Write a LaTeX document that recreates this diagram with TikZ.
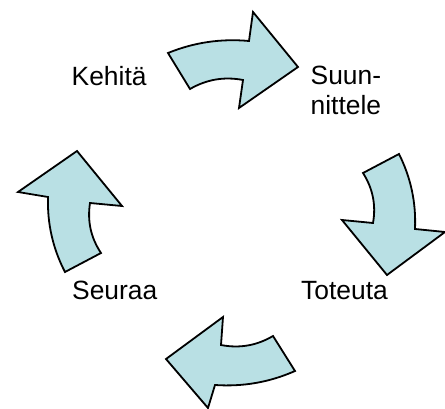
\documentclass[tikz,border=0pt]{standalone}
\usepackage{fontspec}
\setmainfont{Liberation Sans}
\definecolor{arrowfill}{RGB}{185,224,228}
\tikzset{
  cyclearrow/.style={fill=arrowfill,draw=black,line width=1.8pt,line join=miter},
  steplabel/.style={inner sep=0pt,anchor=base west,font=\fontsize{26.4}{30}\selectfont}
}

\begin{document}
\begin{tikzpicture}[x=1pt,y=-1pt]
    \useasboundingbox (0,0) rectangle (445,409);

    % curved arrows of the cycle
    \filldraw[cyclearrow] (168,53) .. controls (194,42.4) and (221,38.4) .. (249,41) -- (253,12) -- (298,67)
        -- (239,108) -- (243,80) .. controls (224.2,76.4) and (206.6,79.4) .. (190,89) -- cycle;
    \filldraw[cyclearrow] (399,154) .. controls (410.8,177.6) and (416.2,202.6) .. (415,229) -- (445,232) -- (387,275)
        -- (342,220) -- (373,223) .. controls (376.2,205) and (372.8,188.4) .. (363,173) -- cycle;
    \filldraw[cyclearrow] (295,371) .. controls (269.4,382.3) and (242.8,386.9) .. (215,385) -- (208,408) -- (166,359)
        -- (223,317) -- (221,345) .. controls (239.4,348.6) and (256.8,345.6) .. (273,336) -- cycle;
    \filldraw[cyclearrow] (65,272) .. controls (52.8,248.5) and (47.2,223.5) .. (48,197) -- (18,192) -- (77,151)
        -- (122,206) -- (90,203) .. controls (87.2,221.1) and (90.8,237.7) .. (101,253) -- cycle;

    % step labels
    \node[steplabel] (kehita) at (71.5,86) {Kehitä};
    \node[steplabel,align=left] (suunnittele) at (310.5,115) {Suun-\\nittele};
    \node[steplabel] (toteuta) at (301,299) {Toteuta};
    \node[steplabel] (seuraa) at (72,299) {Seuraa};
\end{tikzpicture}
\end{document}
